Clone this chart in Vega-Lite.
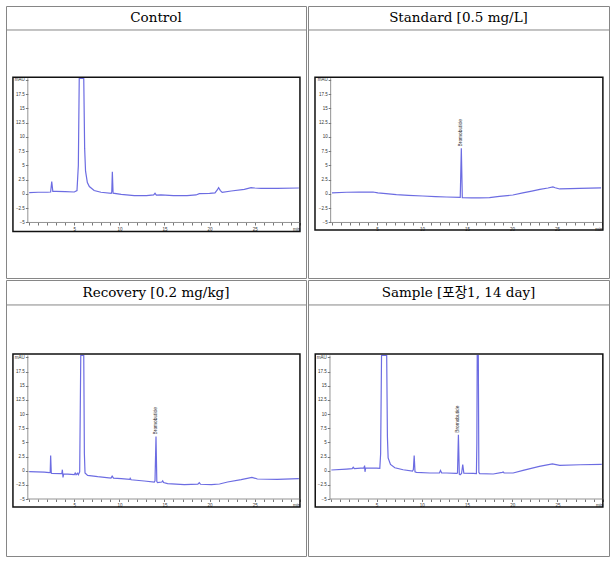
{
  "$schema": "https://vega.github.io/schema/vega-lite/v6.json",
  "background": "white",
  "padding": {"left": 5, "top": 5, "right": 5, "bottom": 5},
  "spacing": 0,
  "config": {
    "view": {"stroke": "#868686", "strokeWidth": 1},
    "concat": {"spacing": 0},
    "axis": {"zindex": 1, "grid": false, "domain": false, "title": null, "tickCount": 100, "format": "~g", "labelFont": "Liberation Sans", "labelFontSize": 4.5, "labelColor": "#333333", "tickColor": "#555555", "tickSize": 2.5, "tickWidth": 0.8, "labelPadding": 1, "labelOverlap": false, "labelFlush": false, "labelBound": false}
  },
  "datasets": {
    "control": [
      {"t": 0, "v": 0.25}, {"t": 1.0, "v": 0.3}, {"t": 2.0, "v": 0.3}, {"t": 2.38, "v": 0.35}, {"t": 2.5, "v": 2.2}, {"t": 2.62, "v": 0.45},
      {"t": 3.0, "v": 0.45}, {"t": 4.0, "v": 0.4}, {"t": 5.0, "v": 0.35}, {"t": 5.3, "v": 0.6}, {"t": 5.45, "v": 5.0}, {"t": 5.55, "v": 20.3},
      {"t": 6.05, "v": 20.3}, {"t": 6.15, "v": 8.0}, {"t": 6.25, "v": 4.0}, {"t": 6.45, "v": 2.0}, {"t": 6.67, "v": 1.3}, {"t": 7.2, "v": 0.6},
      {"t": 7.96, "v": 0.3}, {"t": 9.1, "v": 0.12}, {"t": 9.16, "v": 0.5}, {"t": 9.22, "v": 3.9}, {"t": 9.3, "v": 0.15}, {"t": 10.2, "v": -0.06},
      {"t": 11.65, "v": -0.29}, {"t": 13.0, "v": -0.3}, {"t": 13.8, "v": -0.15}, {"t": 13.95, "v": 0.12}, {"t": 14.1, "v": -0.2}, {"t": 14.6, "v": -0.17},
      {"t": 16.0, "v": -0.29}, {"t": 17.5, "v": -0.3}, {"t": 18.5, "v": -0.17}, {"t": 18.86, "v": 0.06}, {"t": 20.0, "v": 0.1}, {"t": 20.6, "v": 0.2},
      {"t": 20.85, "v": 0.7}, {"t": 21.0, "v": 1.1}, {"t": 21.2, "v": 0.6}, {"t": 21.4, "v": 0.29}, {"t": 22.4, "v": 0.52}, {"t": 23.85, "v": 0.81},
      {"t": 24.6, "v": 1.1}, {"t": 25.0, "v": 1.05}, {"t": 25.7, "v": 0.99}, {"t": 27.5, "v": 1.0}, {"t": 29.9, "v": 1.05}
    ],
    "standard": [
      {"t": 0, "v": 0.18}, {"t": 1.6, "v": 0.3}, {"t": 3.0, "v": 0.32}, {"t": 4.55, "v": 0.35}, {"t": 5.1, "v": 0.18}, {"t": 6.0, "v": 0.05},
      {"t": 7.15, "v": -0.12}, {"t": 8.5, "v": -0.25}, {"t": 10.1, "v": -0.35}, {"t": 11.5, "v": -0.45}, {"t": 12.7, "v": -0.53}, {"t": 14.25, "v": -0.59},
      {"t": 14.37, "v": 8.0}, {"t": 14.48, "v": -0.65}, {"t": 15.5, "v": -0.68}, {"t": 16.4, "v": -0.7}, {"t": 17.5, "v": -0.65}, {"t": 18.6, "v": -0.41},
      {"t": 20.1, "v": -0.18}, {"t": 21.2, "v": 0.18}, {"t": 22.2, "v": 0.5}, {"t": 23.1, "v": 0.82}, {"t": 24.0, "v": 1.05}, {"t": 24.55, "v": 1.24},
      {"t": 24.8, "v": 1.1}, {"t": 25.3, "v": 0.88}, {"t": 26.5, "v": 0.95}, {"t": 27.5, "v": 1.0}, {"t": 29.9, "v": 1.06}
    ],
    "recovery": [
      {"t": 0, "v": -0.18}, {"t": 1.68, "v": -0.24}, {"t": 2.23, "v": -0.35}, {"t": 2.33, "v": -0.3}, {"t": 2.38, "v": 2.7}, {"t": 2.45, "v": -0.45},
      {"t": 2.53, "v": -0.47}, {"t": 3.52, "v": -0.53}, {"t": 3.62, "v": -0.5}, {"t": 3.68, "v": 0.18}, {"t": 3.75, "v": -1.18}, {"t": 3.82, "v": -0.55},
      {"t": 4.27, "v": -0.59}, {"t": 5.0, "v": -0.7}, {"t": 5.1, "v": -0.4}, {"t": 5.2, "v": -0.7}, {"t": 5.35, "v": -0.45}, {"t": 5.45, "v": -0.7},
      {"t": 5.6, "v": -0.2}, {"t": 5.72, "v": 20.35}, {"t": 6.05, "v": 20.35}, {"t": 6.12, "v": 3.0}, {"t": 6.19, "v": -0.41}, {"t": 6.48, "v": -0.82},
      {"t": 7.6, "v": -1.06}, {"t": 9.07, "v": -1.29}, {"t": 9.2, "v": -0.95}, {"t": 9.35, "v": -1.3}, {"t": 10.2, "v": -1.41}, {"t": 11.15, "v": -1.55},
      {"t": 11.2, "v": -1.35}, {"t": 11.3, "v": -1.6}, {"t": 12.76, "v": -1.82}, {"t": 13.87, "v": -2.0}, {"t": 13.95, "v": -1.8}, {"t": 14.06, "v": 6.06},
      {"t": 14.15, "v": -1.9}, {"t": 14.24, "v": -2.12}, {"t": 14.7, "v": -2.0}, {"t": 14.8, "v": -1.8}, {"t": 14.9, "v": -2.1}, {"t": 15.35, "v": -2.29},
      {"t": 17.2, "v": -2.47}, {"t": 18.7, "v": -2.38}, {"t": 18.86, "v": -2.1}, {"t": 19.0, "v": -2.4}, {"t": 20.2, "v": -2.47}, {"t": 21.1, "v": -2.35},
      {"t": 22.0, "v": -2.0}, {"t": 23.5, "v": -1.59}, {"t": 24.7, "v": -1.18}, {"t": 25.3, "v": -1.47}, {"t": 27.5, "v": -1.53}, {"t": 29.9, "v": -1.41}
    ],
    "sample": [
      {"t": 0, "v": 0.12}, {"t": 1.68, "v": 0.29}, {"t": 2.3, "v": 0.35}, {"t": 2.42, "v": 0.6}, {"t": 2.55, "v": 0.35}, {"t": 3.6, "v": 0.5},
      {"t": 3.68, "v": 0.9}, {"t": 3.72, "v": -0.2}, {"t": 3.8, "v": 0.5}, {"t": 4.26, "v": 0.47}, {"t": 5.0, "v": 0.45}, {"t": 5.36, "v": 0.41},
      {"t": 5.45, "v": 3.0}, {"t": 5.55, "v": 20.35}, {"t": 6.12, "v": 20.35}, {"t": 6.2, "v": 6.0}, {"t": 6.28, "v": 2.27}, {"t": 6.54, "v": 1.1},
      {"t": 7.02, "v": 0.52}, {"t": 7.94, "v": 0.17}, {"t": 8.97, "v": -0.06}, {"t": 9.07, "v": 0.2}, {"t": 9.16, "v": 2.67}, {"t": 9.25, "v": -0.2},
      {"t": 9.41, "v": -0.29}, {"t": 10.9, "v": -0.41}, {"t": 11.95, "v": -0.4}, {"t": 12.07, "v": 0.05}, {"t": 12.2, "v": -0.4}, {"t": 12.73, "v": -0.41},
      {"t": 13.83, "v": -0.47}, {"t": 13.95, "v": -0.4}, {"t": 14.05, "v": 6.34}, {"t": 14.15, "v": -0.6}, {"t": 14.24, "v": -0.7}, {"t": 14.4, "v": -0.5},
      {"t": 14.53, "v": 1.1}, {"t": 14.65, "v": -0.45}, {"t": 15.68, "v": -0.47}, {"t": 16.04, "v": -0.52}, {"t": 16.09, "v": 5.0}, {"t": 16.13, "v": 20.35},
      {"t": 16.25, "v": 20.35}, {"t": 16.31, "v": -0.3}, {"t": 16.4, "v": -0.52}, {"t": 17.9, "v": -0.58}, {"t": 18.9, "v": -0.3}, {"t": 19.0, "v": -0.23},
      {"t": 19.1, "v": -0.4}, {"t": 20.1, "v": -0.41}, {"t": 21.2, "v": 0.06}, {"t": 23.0, "v": 0.76}, {"t": 24.44, "v": 1.22}, {"t": 25.25, "v": 0.93},
      {"t": 27.5, "v": 1.05}, {"t": 29.9, "v": 1.1}
    ]
  },
  "vconcat": [
    {
      "spacing": 0,
      "hconcat": [
        {
          "width": 300, "height": 272,
          "layer": [
            {"data": {"name": "control"},
             "mark": {"type": "line", "color": "#6c6ce2", "strokeWidth": 1.2},
             "encoding": {
               "x": {"field": "t", "type": "quantitative", "scale": {"domain": [-2.57, 30.69], "nice": false, "zero": false},
                     "axis": {"orient": "bottom", "offset": -55.5, "tickCount": 100, "format": "~g", "labelOverlap": false, "values": [0,1,2,3,4,5,6,7,8,9,10,11,12,13,14,15,16,17,18,19,20,21,22,23,24,25,26,27,28,29,30],
                              "labelExpr": "datum.value == 30 ? 'min' : (datum.value > 0 && datum.value % 5 == 0 ? datum.label : '')",
                              "labelAlign": {"condition": {"test": "datum.value == 30", "value": "right"}, "value": "center"}}},
               "y": {"field": "v", "type": "quantitative", "scale": {"domain": [-14.74, 32.98], "nice": false, "zero": false},
                     "axis": {"orient": "left", "offset": -21.85, "tickCount": 100, "labelOverlap": false, "values": [-5,-2.5,0,2.5,5,7.5,10,12.5,15,17.5,20], "format": "~g",
                              "labelExpr": "datum.value == 20 ? 'mAU' : datum.label"}}
             }},
            {"data": {"values": [{"title": "Control"}]}, "mark": {"type": "rule", "color": "#868686", "strokeWidth": 1},
             "encoding": {"y": {"datum": 28.77, "type": "quantitative"}}},
            {"data": {"values": [{"title": "Control"}]}, "mark": {"type": "text", "font": "DejaVu Serif, Noto Sans CJK KR", "fontSize": 13.5, "color": "black", "baseline": "middle"},
             "encoding": {"text": {"field": "title"}, "y": {"datum": 30.9, "type": "quantitative"}}},
            {"data": {"values": [{"title": "Control"}]}, "mark": {"type": "rect", "fillOpacity": 0, "stroke": "#111111", "strokeWidth": 1.5},
             "encoding": {"x": {"datum": -1.8, "type": "quantitative"}, "x2": {"datum": 30.02}, "y": {"datum": -6.6, "type": "quantitative"}, "y2": {"datum": 20.5}}},
            {"data": {"values": [{"title": "Control"}]}, "mark": {"type": "rule", "color": "#777777", "strokeWidth": 0.8},
             "encoding": {"x": {"datum": -0.15, "type": "quantitative"}, "y": {"datum": -5, "type": "quantitative"}, "y2": {"datum": 20.3}}},
            {"data": {"values": [{"title": "Control"}]}, "mark": {"type": "rule", "color": "#777777", "strokeWidth": 0.8},
             "encoding": {"x": {"datum": -0.15, "type": "quantitative"}, "x2": {"datum": 30.0}, "y": {"datum": -5, "type": "quantitative"}}}
          ]
        },
        {
          "width": 301, "height": 272,
          "layer": [
            {"data": {"name": "standard"}, "mark": {"type": "line", "color": "#6c6ce2", "strokeWidth": 1.2},
             "encoding": {
               "x": {"field": "t", "type": "quantitative", "scale": {"domain": [-2.667, 30.78], "nice": false, "zero": false},
                     "axis": {"orient": "bottom", "offset": -55.5, "tickCount": 100, "format": "~g", "labelOverlap": false, "values": [0,1,2,3,4,5,6,7,8,9,10,11,12,13,14,15,16,17,18,19,20,21,22,23,24,25,26,27,28,29,30],
                              "labelExpr": "datum.value == 30 ? 'min' : (datum.value > 0 && datum.value % 5 == 0 ? datum.label : '')",
                              "labelAlign": {"condition": {"test": "datum.value == 30", "value": "right"}, "value": "center"}}},
               "y": {"field": "v", "type": "quantitative", "scale": {"domain": [-14.74, 32.98], "nice": false, "zero": false},
                     "axis": {"orient": "left", "offset": -22.65, "tickCount": 100, "labelOverlap": false, "values": [-5,-2.5,0,2.5,5,7.5,10,12.5,15,17.5,20], "format": "~g",
                              "labelExpr": "datum.value == 20 ? 'mAU' : datum.label"}}
             }},
            {"data": {"values": [{"title": "Standard [0.5 mg/L]"}]}, "mark": {"type": "rule", "color": "#868686", "strokeWidth": 1},
             "encoding": {"y": {"datum": 28.77, "type": "quantitative"}}},
            {"data": {"values": [{"title": "Standard [0.5 mg/L]"}]}, "mark": {"type": "text", "font": "DejaVu Serif, Noto Sans CJK KR", "fontSize": 13.5, "color": "black", "baseline": "middle"},
             "encoding": {"text": {"field": "title"}, "y": {"datum": 30.9, "type": "quantitative"}}},
            {"data": {"values": [{"title": "Standard [0.5 mg/L]"}]}, "mark": {"type": "rect", "fillOpacity": 0, "stroke": "#111111", "strokeWidth": 1.5},
             "encoding": {"x": {"datum": -1.89, "type": "quantitative"}, "x2": {"datum": 30.1}, "y": {"datum": -6.3, "type": "quantitative"}, "y2": {"datum": 20.5}}},
            {"data": {"values": [{"title": "Standard [0.5 mg/L]"}]}, "mark": {"type": "rule", "color": "#777777", "strokeWidth": 0.8},
             "encoding": {"x": {"datum": -0.15, "type": "quantitative"}, "y": {"datum": -5, "type": "quantitative"}, "y2": {"datum": 20.3}}},
            {"data": {"values": [{"title": "Standard [0.5 mg/L]"}]}, "mark": {"type": "rule", "color": "#777777", "strokeWidth": 0.8},
             "encoding": {"x": {"datum": -0.15, "type": "quantitative"}, "x2": {"datum": 30.0}, "y": {"datum": -5, "type": "quantitative"}}},
            {"data": {"values": [{"t": 14.37, "v": 8.0, "name": "Bromobutide"}]}, "mark": {"type": "text", "font": "Liberation Sans", "fontSize": 4.8, "color": "#333333", "angle": 270, "align": "left", "baseline": "middle", "yOffset": -2},
             "encoding": {"x": {"field": "t", "type": "quantitative"}, "y": {"field": "v", "type": "quantitative"}, "text": {"field": "name"}}}
          ]
        }
      ]
    },
    {
      "spacing": 0,
      "hconcat": [
        {
          "width": 300, "height": 276,
          "layer": [
            {"data": {"name": "recovery"}, "mark": {"type": "line", "color": "#6c6ce2", "strokeWidth": 1.2},
             "encoding": {
               "x": {"field": "t", "type": "quantitative", "scale": {"domain": [-2.57, 30.69], "nice": false, "zero": false},
                     "axis": {"orient": "bottom", "offset": -57, "tickCount": 100, "format": "~g", "labelOverlap": false, "values": [0,1,2,3,4,5,6,7,8,9,10,11,12,13,14,15,16,17,18,19,20,21,22,23,24,25,26,27,28,29,30],
                              "labelExpr": "datum.value == 30 ? 'min' : (datum.value > 0 && datum.value % 5 == 0 ? datum.label : '')",
                              "labelAlign": {"condition": {"test": "datum.value == 30", "value": "right"}, "value": "center"}}},
               "y": {"field": "v", "type": "quantitative", "scale": {"domain": [-15.07, 33.69], "nice": false, "zero": false},
                     "axis": {"orient": "left", "offset": -21.85, "tickCount": 100, "labelOverlap": false, "values": [-5,-2.5,0,2.5,5,7.5,10,12.5,15,17.5,20], "format": "~g",
                              "labelExpr": "datum.value == 20 ? 'mAU' : datum.label"}}
             }},
            {"data": {"values": [{"title": "Recovery [0.2 mg/kg]"}]}, "mark": {"type": "rule", "color": "#868686", "strokeWidth": 1},
             "encoding": {"y": {"datum": 29.28, "type": "quantitative"}}},
            {"data": {"values": [{"title": "Recovery [0.2 mg/kg]"}]}, "mark": {"type": "text", "font": "DejaVu Serif, Noto Sans CJK KR", "fontSize": 13.5, "color": "black", "baseline": "middle"},
             "encoding": {"text": {"field": "title"}, "y": {"datum": 31.4, "type": "quantitative"}}},
            {"data": {"values": [{"title": "Recovery [0.2 mg/kg]"}]}, "mark": {"type": "rect", "fillOpacity": 0, "stroke": "#111111", "strokeWidth": 1.5},
             "encoding": {"x": {"datum": -1.8, "type": "quantitative"}, "x2": {"datum": 30.02}, "y": {"datum": -6.4, "type": "quantitative"}, "y2": {"datum": 20.6}}},
            {"data": {"values": [{"title": "Recovery [0.2 mg/kg]"}]}, "mark": {"type": "rule", "color": "#777777", "strokeWidth": 0.8},
             "encoding": {"x": {"datum": -0.15, "type": "quantitative"}, "y": {"datum": -5, "type": "quantitative"}, "y2": {"datum": 20.35}}},
            {"data": {"values": [{"title": "Recovery [0.2 mg/kg]"}]}, "mark": {"type": "rule", "color": "#777777", "strokeWidth": 0.8},
             "encoding": {"x": {"datum": -0.15, "type": "quantitative"}, "x2": {"datum": 30.0}, "y": {"datum": -5, "type": "quantitative"}}},
            {"data": {"values": [{"t": 14.06, "v": 6.06, "name": "Bromobutide"}]}, "mark": {"type": "text", "font": "Liberation Sans", "fontSize": 4.8, "color": "#333333", "angle": 270, "align": "left", "baseline": "middle", "yOffset": -2},
             "encoding": {"x": {"field": "t", "type": "quantitative"}, "y": {"field": "v", "type": "quantitative"}, "text": {"field": "name"}}}
          ]
        },
        {
          "width": 301, "height": 276,
          "layer": [
            {"data": {"name": "sample"}, "mark": {"type": "line", "color": "#6c6ce2", "strokeWidth": 1.2},
             "encoding": {
               "x": {"field": "t", "type": "quantitative", "scale": {"domain": [-2.58, 30.7], "nice": false, "zero": false},
                     "axis": {"orient": "bottom", "offset": -57, "tickCount": 100, "format": "~g", "labelOverlap": false, "values": [0,1,2,3,4,5,6,7,8,9,10,11,12,13,14,15,16,17,18,19,20,21,22,23,24,25,26,27,28,29,30],
                              "labelExpr": "datum.value == 30 ? 'min' : (datum.value > 0 && datum.value % 5 == 0 ? datum.label : '')",
                              "labelAlign": {"condition": {"test": "datum.value == 30", "value": "right"}, "value": "center"}}},
               "y": {"field": "v", "type": "quantitative", "scale": {"domain": [-15.07, 33.69], "nice": false, "zero": false},
                     "axis": {"orient": "left", "offset": -21.75, "tickCount": 100, "labelOverlap": false, "values": [-5,-2.5,0,2.5,5,7.5,10,12.5,15,17.5,20], "format": "~g",
                              "labelExpr": "datum.value == 20 ? 'mAU' : datum.label"}}
             }},
            {"data": {"values": [{"title": "Sample [포장1, 14 day]"}]}, "mark": {"type": "rule", "color": "#868686", "strokeWidth": 1},
             "encoding": {"y": {"datum": 29.28, "type": "quantitative"}}},
            {"data": {"values": [{"title": "Sample [포장1, 14 day]"}]}, "mark": {"type": "text", "font": "DejaVu Serif, Noto Sans CJK KR", "fontSize": 13.5, "color": "black", "baseline": "middle"},
             "encoding": {"text": {"field": "title"}, "y": {"datum": 31.4, "type": "quantitative"}}},
            {"data": {"values": [{"title": "Sample [포장1, 14 day]"}]}, "mark": {"type": "rect", "fillOpacity": 0, "stroke": "#111111", "strokeWidth": 1.5},
             "encoding": {"x": {"datum": -1.78, "type": "quantitative"}, "x2": {"datum": 30.02}, "y": {"datum": -6.4, "type": "quantitative"}, "y2": {"datum": 20.6}}},
            {"data": {"values": [{"title": "Sample [포장1, 14 day]"}]}, "mark": {"type": "rule", "color": "#777777", "strokeWidth": 0.8},
             "encoding": {"x": {"datum": -0.15, "type": "quantitative"}, "y": {"datum": -5, "type": "quantitative"}, "y2": {"datum": 20.35}}},
            {"data": {"values": [{"title": "Sample [포장1, 14 day]"}]}, "mark": {"type": "rule", "color": "#777777", "strokeWidth": 0.8},
             "encoding": {"x": {"datum": -0.15, "type": "quantitative"}, "x2": {"datum": 30.0}, "y": {"datum": -5, "type": "quantitative"}}},
            {"data": {"values": [{"t": 14.05, "v": 6.34, "name": "Bromobutide"}]}, "mark": {"type": "text", "font": "Liberation Sans", "fontSize": 4.8, "color": "#333333", "angle": 270, "align": "left", "baseline": "middle", "yOffset": -2},
             "encoding": {"x": {"field": "t", "type": "quantitative"}, "y": {"field": "v", "type": "quantitative"}, "text": {"field": "name"}}}
          ]
        }
      ]
    }
  ]
}
